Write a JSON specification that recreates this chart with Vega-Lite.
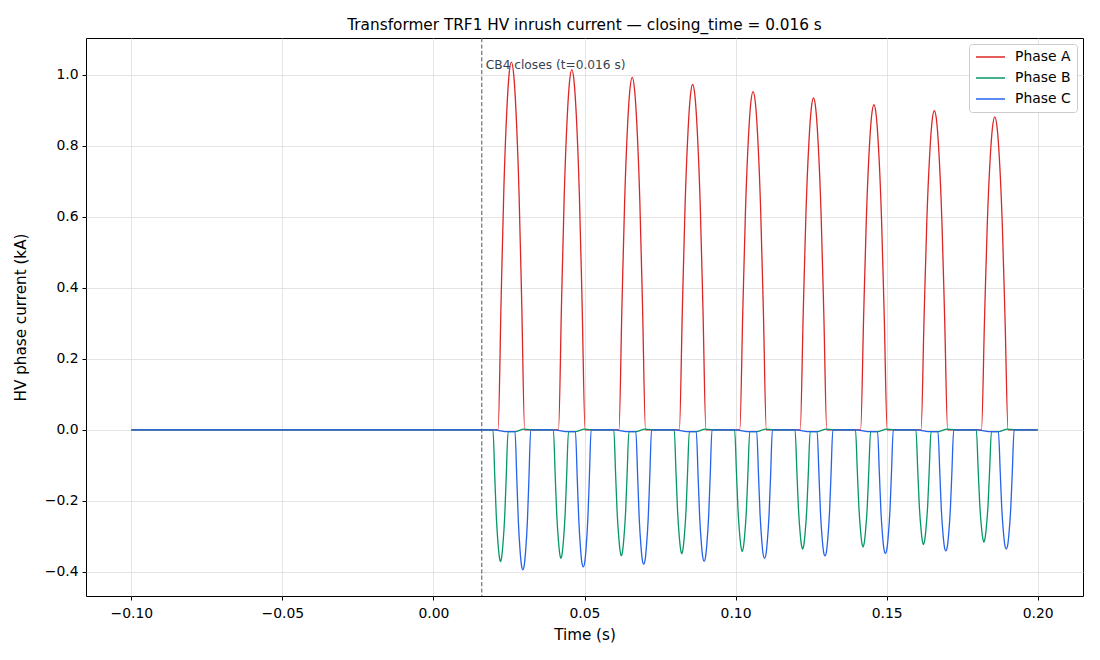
{
  "$schema": "https://vega.github.io/schema/vega-lite/v6.json",
  "autosize": "none",
  "width": 997,
  "height": 558,
  "padding": {"left": 86, "top": 38, "right": 17, "bottom": 64},
  "background": "white",
  "title": {
    "text": "Transformer TRF1 HV inrush current — closing_time = 0.016 s",
    "fontSize": 15.3,
    "fontWeight": "normal",
    "color": "black",
    "anchor": "middle",
    "offset": 4
  },
  "layer": [
    {
      "data": {
        "values": [
          {"t": -0.1, "phase": "Phase A", "i": 0},
          {"t": 0.0214, "phase": "Phase A", "i": 0},
          {"t": 0.0224, "phase": "Phase A", "i": 0.366},
          {"t": 0.0233, "phase": "Phase A", "i": 0.677},
          {"t": 0.0243, "phase": "Phase A", "i": 0.902},
          {"t": 0.0250, "phase": "Phase A", "i": 0.998},
          {"t": 0.0258, "phase": "Phase A", "i": 1.036},
          {"t": 0.0266, "phase": "Phase A", "i": 0.998},
          {"t": 0.0273, "phase": "Phase A", "i": 0.902},
          {"t": 0.0283, "phase": "Phase A", "i": 0.677},
          {"t": 0.0292, "phase": "Phase A", "i": 0.366},
          {"t": 0.0302, "phase": "Phase A", "i": 0},
          {"t": 0.0414, "phase": "Phase A", "i": 0},
          {"t": 0.0424, "phase": "Phase A", "i": 0.358},
          {"t": 0.0433, "phase": "Phase A", "i": 0.663},
          {"t": 0.0443, "phase": "Phase A", "i": 0.884},
          {"t": 0.0450, "phase": "Phase A", "i": 0.977},
          {"t": 0.0458, "phase": "Phase A", "i": 1.015},
          {"t": 0.0466, "phase": "Phase A", "i": 0.977},
          {"t": 0.0473, "phase": "Phase A", "i": 0.884},
          {"t": 0.0483, "phase": "Phase A", "i": 0.663},
          {"t": 0.0492, "phase": "Phase A", "i": 0.358},
          {"t": 0.0502, "phase": "Phase A", "i": 0},
          {"t": 0.0614, "phase": "Phase A", "i": 0},
          {"t": 0.0624, "phase": "Phase A", "i": 0.351},
          {"t": 0.0633, "phase": "Phase A", "i": 0.648},
          {"t": 0.0643, "phase": "Phase A", "i": 0.865},
          {"t": 0.0650, "phase": "Phase A", "i": 0.956},
          {"t": 0.0658, "phase": "Phase A", "i": 0.993},
          {"t": 0.0666, "phase": "Phase A", "i": 0.956},
          {"t": 0.0673, "phase": "Phase A", "i": 0.865},
          {"t": 0.0683, "phase": "Phase A", "i": 0.648},
          {"t": 0.0692, "phase": "Phase A", "i": 0.351},
          {"t": 0.0702, "phase": "Phase A", "i": 0},
          {"t": 0.0814, "phase": "Phase A", "i": 0},
          {"t": 0.0824, "phase": "Phase A", "i": 0.343},
          {"t": 0.0833, "phase": "Phase A", "i": 0.635},
          {"t": 0.0843, "phase": "Phase A", "i": 0.847},
          {"t": 0.0850, "phase": "Phase A", "i": 0.937},
          {"t": 0.0858, "phase": "Phase A", "i": 0.973},
          {"t": 0.0866, "phase": "Phase A", "i": 0.937},
          {"t": 0.0873, "phase": "Phase A", "i": 0.847},
          {"t": 0.0883, "phase": "Phase A", "i": 0.635},
          {"t": 0.0892, "phase": "Phase A", "i": 0.343},
          {"t": 0.0902, "phase": "Phase A", "i": 0},
          {"t": 0.1014, "phase": "Phase A", "i": 0},
          {"t": 0.1024, "phase": "Phase A", "i": 0.336},
          {"t": 0.1033, "phase": "Phase A", "i": 0.622},
          {"t": 0.1043, "phase": "Phase A", "i": 0.830},
          {"t": 0.1050, "phase": "Phase A", "i": 0.918},
          {"t": 0.1058, "phase": "Phase A", "i": 0.953},
          {"t": 0.1066, "phase": "Phase A", "i": 0.918},
          {"t": 0.1073, "phase": "Phase A", "i": 0.830},
          {"t": 0.1083, "phase": "Phase A", "i": 0.622},
          {"t": 0.1092, "phase": "Phase A", "i": 0.336},
          {"t": 0.1102, "phase": "Phase A", "i": 0},
          {"t": 0.1214, "phase": "Phase A", "i": 0},
          {"t": 0.1224, "phase": "Phase A", "i": 0.330},
          {"t": 0.1233, "phase": "Phase A", "i": 0.611},
          {"t": 0.1243, "phase": "Phase A", "i": 0.814},
          {"t": 0.1250, "phase": "Phase A", "i": 0.900},
          {"t": 0.1258, "phase": "Phase A", "i": 0.935},
          {"t": 0.1266, "phase": "Phase A", "i": 0.900},
          {"t": 0.1273, "phase": "Phase A", "i": 0.814},
          {"t": 0.1283, "phase": "Phase A", "i": 0.611},
          {"t": 0.1292, "phase": "Phase A", "i": 0.330},
          {"t": 0.1302, "phase": "Phase A", "i": 0},
          {"t": 0.1414, "phase": "Phase A", "i": 0},
          {"t": 0.1424, "phase": "Phase A", "i": 0.323},
          {"t": 0.1433, "phase": "Phase A", "i": 0.598},
          {"t": 0.1443, "phase": "Phase A", "i": 0.798},
          {"t": 0.1450, "phase": "Phase A", "i": 0.882},
          {"t": 0.1458, "phase": "Phase A", "i": 0.916},
          {"t": 0.1466, "phase": "Phase A", "i": 0.882},
          {"t": 0.1473, "phase": "Phase A", "i": 0.798},
          {"t": 0.1483, "phase": "Phase A", "i": 0.598},
          {"t": 0.1492, "phase": "Phase A", "i": 0.323},
          {"t": 0.1502, "phase": "Phase A", "i": 0},
          {"t": 0.1614, "phase": "Phase A", "i": 0},
          {"t": 0.1624, "phase": "Phase A", "i": 0.317},
          {"t": 0.1633, "phase": "Phase A", "i": 0.587},
          {"t": 0.1643, "phase": "Phase A", "i": 0.783},
          {"t": 0.1650, "phase": "Phase A", "i": 0.866},
          {"t": 0.1658, "phase": "Phase A", "i": 0.899},
          {"t": 0.1666, "phase": "Phase A", "i": 0.866},
          {"t": 0.1673, "phase": "Phase A", "i": 0.783},
          {"t": 0.1683, "phase": "Phase A", "i": 0.587},
          {"t": 0.1692, "phase": "Phase A", "i": 0.317},
          {"t": 0.1702, "phase": "Phase A", "i": 0},
          {"t": 0.1814, "phase": "Phase A", "i": 0},
          {"t": 0.1824, "phase": "Phase A", "i": 0.311},
          {"t": 0.1833, "phase": "Phase A", "i": 0.576},
          {"t": 0.1843, "phase": "Phase A", "i": 0.768},
          {"t": 0.1850, "phase": "Phase A", "i": 0.849},
          {"t": 0.1858, "phase": "Phase A", "i": 0.882},
          {"t": 0.1866, "phase": "Phase A", "i": 0.849},
          {"t": 0.1873, "phase": "Phase A", "i": 0.768},
          {"t": 0.1883, "phase": "Phase A", "i": 0.576},
          {"t": 0.1892, "phase": "Phase A", "i": 0.311},
          {"t": 0.1902, "phase": "Phase A", "i": 0},
          {"t": 0.2, "phase": "Phase A", "i": 0},

          {"t": -0.1, "phase": "Phase B", "i": 0},
          {"t": 0.0197, "phase": "Phase B", "i": 0},
          {"t": 0.0203, "phase": "Phase B", "i": -0.131},
          {"t": 0.0208, "phase": "Phase B", "i": -0.242},
          {"t": 0.0214, "phase": "Phase B", "i": -0.323},
          {"t": 0.0218, "phase": "Phase B", "i": -0.357},
          {"t": 0.0222, "phase": "Phase B", "i": -0.371},
          {"t": 0.0226, "phase": "Phase B", "i": -0.357},
          {"t": 0.0230, "phase": "Phase B", "i": -0.323},
          {"t": 0.0236, "phase": "Phase B", "i": -0.242},
          {"t": 0.0241, "phase": "Phase B", "i": -0.131},
          {"t": 0.0247, "phase": "Phase B", "i": -0.005},
          {"t": 0.0270, "phase": "Phase B", "i": -0.005},
          {"t": 0.0300, "phase": "Phase B", "i": 0.002},
          {"t": 0.0340, "phase": "Phase B", "i": 0},
          {"t": 0.0397, "phase": "Phase B", "i": 0},
          {"t": 0.0403, "phase": "Phase B", "i": -0.128},
          {"t": 0.0408, "phase": "Phase B", "i": -0.236},
          {"t": 0.0414, "phase": "Phase B", "i": -0.315},
          {"t": 0.0418, "phase": "Phase B", "i": -0.349},
          {"t": 0.0422, "phase": "Phase B", "i": -0.362},
          {"t": 0.0426, "phase": "Phase B", "i": -0.349},
          {"t": 0.0430, "phase": "Phase B", "i": -0.315},
          {"t": 0.0436, "phase": "Phase B", "i": -0.236},
          {"t": 0.0441, "phase": "Phase B", "i": -0.128},
          {"t": 0.0447, "phase": "Phase B", "i": -0.005},
          {"t": 0.0470, "phase": "Phase B", "i": -0.005},
          {"t": 0.0500, "phase": "Phase B", "i": 0.002},
          {"t": 0.0540, "phase": "Phase B", "i": 0},
          {"t": 0.0597, "phase": "Phase B", "i": 0},
          {"t": 0.0603, "phase": "Phase B", "i": -0.125},
          {"t": 0.0608, "phase": "Phase B", "i": -0.232},
          {"t": 0.0614, "phase": "Phase B", "i": -0.309},
          {"t": 0.0618, "phase": "Phase B", "i": -0.342},
          {"t": 0.0622, "phase": "Phase B", "i": -0.355},
          {"t": 0.0626, "phase": "Phase B", "i": -0.342},
          {"t": 0.0630, "phase": "Phase B", "i": -0.309},
          {"t": 0.0636, "phase": "Phase B", "i": -0.232},
          {"t": 0.0641, "phase": "Phase B", "i": -0.125},
          {"t": 0.0647, "phase": "Phase B", "i": -0.005},
          {"t": 0.0670, "phase": "Phase B", "i": -0.005},
          {"t": 0.0700, "phase": "Phase B", "i": 0.002},
          {"t": 0.0740, "phase": "Phase B", "i": 0},
          {"t": 0.0797, "phase": "Phase B", "i": 0},
          {"t": 0.0803, "phase": "Phase B", "i": -0.123},
          {"t": 0.0808, "phase": "Phase B", "i": -0.228},
          {"t": 0.0814, "phase": "Phase B", "i": -0.304},
          {"t": 0.0818, "phase": "Phase B", "i": -0.336},
          {"t": 0.0822, "phase": "Phase B", "i": -0.349},
          {"t": 0.0826, "phase": "Phase B", "i": -0.336},
          {"t": 0.0830, "phase": "Phase B", "i": -0.304},
          {"t": 0.0836, "phase": "Phase B", "i": -0.228},
          {"t": 0.0841, "phase": "Phase B", "i": -0.123},
          {"t": 0.0847, "phase": "Phase B", "i": -0.005},
          {"t": 0.0870, "phase": "Phase B", "i": -0.005},
          {"t": 0.0900, "phase": "Phase B", "i": 0.002},
          {"t": 0.0940, "phase": "Phase B", "i": 0},
          {"t": 0.0997, "phase": "Phase B", "i": 0},
          {"t": 0.1003, "phase": "Phase B", "i": -0.121},
          {"t": 0.1008, "phase": "Phase B", "i": -0.224},
          {"t": 0.1014, "phase": "Phase B", "i": -0.299},
          {"t": 0.1018, "phase": "Phase B", "i": -0.330},
          {"t": 0.1022, "phase": "Phase B", "i": -0.343},
          {"t": 0.1026, "phase": "Phase B", "i": -0.330},
          {"t": 0.1030, "phase": "Phase B", "i": -0.299},
          {"t": 0.1036, "phase": "Phase B", "i": -0.224},
          {"t": 0.1041, "phase": "Phase B", "i": -0.121},
          {"t": 0.1047, "phase": "Phase B", "i": -0.005},
          {"t": 0.1070, "phase": "Phase B", "i": -0.005},
          {"t": 0.1100, "phase": "Phase B", "i": 0.002},
          {"t": 0.1140, "phase": "Phase B", "i": 0},
          {"t": 0.1197, "phase": "Phase B", "i": 0},
          {"t": 0.1203, "phase": "Phase B", "i": -0.119},
          {"t": 0.1208, "phase": "Phase B", "i": -0.219},
          {"t": 0.1214, "phase": "Phase B", "i": -0.293},
          {"t": 0.1218, "phase": "Phase B", "i": -0.324},
          {"t": 0.1222, "phase": "Phase B", "i": -0.336},
          {"t": 0.1226, "phase": "Phase B", "i": -0.324},
          {"t": 0.1230, "phase": "Phase B", "i": -0.293},
          {"t": 0.1236, "phase": "Phase B", "i": -0.219},
          {"t": 0.1241, "phase": "Phase B", "i": -0.119},
          {"t": 0.1247, "phase": "Phase B", "i": -0.005},
          {"t": 0.1270, "phase": "Phase B", "i": -0.005},
          {"t": 0.1300, "phase": "Phase B", "i": 0.002},
          {"t": 0.1340, "phase": "Phase B", "i": 0},
          {"t": 0.1397, "phase": "Phase B", "i": 0},
          {"t": 0.1403, "phase": "Phase B", "i": -0.116},
          {"t": 0.1408, "phase": "Phase B", "i": -0.215},
          {"t": 0.1414, "phase": "Phase B", "i": -0.287},
          {"t": 0.1418, "phase": "Phase B", "i": -0.318},
          {"t": 0.1422, "phase": "Phase B", "i": -0.330},
          {"t": 0.1426, "phase": "Phase B", "i": -0.318},
          {"t": 0.1430, "phase": "Phase B", "i": -0.287},
          {"t": 0.1436, "phase": "Phase B", "i": -0.215},
          {"t": 0.1441, "phase": "Phase B", "i": -0.116},
          {"t": 0.1447, "phase": "Phase B", "i": -0.005},
          {"t": 0.1470, "phase": "Phase B", "i": -0.005},
          {"t": 0.1500, "phase": "Phase B", "i": 0.002},
          {"t": 0.1540, "phase": "Phase B", "i": 0},
          {"t": 0.1597, "phase": "Phase B", "i": 0},
          {"t": 0.1603, "phase": "Phase B", "i": -0.114},
          {"t": 0.1608, "phase": "Phase B", "i": -0.211},
          {"t": 0.1614, "phase": "Phase B", "i": -0.281},
          {"t": 0.1618, "phase": "Phase B", "i": -0.311},
          {"t": 0.1622, "phase": "Phase B", "i": -0.323},
          {"t": 0.1626, "phase": "Phase B", "i": -0.311},
          {"t": 0.1630, "phase": "Phase B", "i": -0.281},
          {"t": 0.1636, "phase": "Phase B", "i": -0.211},
          {"t": 0.1641, "phase": "Phase B", "i": -0.114},
          {"t": 0.1647, "phase": "Phase B", "i": -0.005},
          {"t": 0.1670, "phase": "Phase B", "i": -0.005},
          {"t": 0.1700, "phase": "Phase B", "i": 0.002},
          {"t": 0.1740, "phase": "Phase B", "i": 0},
          {"t": 0.1797, "phase": "Phase B", "i": 0},
          {"t": 0.1803, "phase": "Phase B", "i": -0.112},
          {"t": 0.1808, "phase": "Phase B", "i": -0.206},
          {"t": 0.1814, "phase": "Phase B", "i": -0.275},
          {"t": 0.1818, "phase": "Phase B", "i": -0.304},
          {"t": 0.1822, "phase": "Phase B", "i": -0.316},
          {"t": 0.1826, "phase": "Phase B", "i": -0.304},
          {"t": 0.1830, "phase": "Phase B", "i": -0.275},
          {"t": 0.1836, "phase": "Phase B", "i": -0.206},
          {"t": 0.1841, "phase": "Phase B", "i": -0.112},
          {"t": 0.1847, "phase": "Phase B", "i": -0.005},
          {"t": 0.1870, "phase": "Phase B", "i": -0.005},
          {"t": 0.1900, "phase": "Phase B", "i": 0.002},
          {"t": 0.1940, "phase": "Phase B", "i": 0},
          {"t": 0.2, "phase": "Phase B", "i": 0},

          {"t": -0.1, "phase": "Phase C", "i": 0},
          {"t": 0.0197, "phase": "Phase C", "i": 0},
          {"t": 0.0247, "phase": "Phase C", "i": -0.005},
          {"t": 0.0270, "phase": "Phase C", "i": -0.005},
          {"t": 0.0276, "phase": "Phase C", "i": -0.139},
          {"t": 0.0281, "phase": "Phase C", "i": -0.257},
          {"t": 0.0287, "phase": "Phase C", "i": -0.343},
          {"t": 0.0291, "phase": "Phase C", "i": -0.379},
          {"t": 0.0296, "phase": "Phase C", "i": -0.394},
          {"t": 0.0301, "phase": "Phase C", "i": -0.379},
          {"t": 0.0305, "phase": "Phase C", "i": -0.343},
          {"t": 0.0311, "phase": "Phase C", "i": -0.257},
          {"t": 0.0316, "phase": "Phase C", "i": -0.139},
          {"t": 0.0322, "phase": "Phase C", "i": 0},
          {"t": 0.0397, "phase": "Phase C", "i": 0},
          {"t": 0.0447, "phase": "Phase C", "i": -0.005},
          {"t": 0.0470, "phase": "Phase C", "i": -0.005},
          {"t": 0.0476, "phase": "Phase C", "i": -0.136},
          {"t": 0.0481, "phase": "Phase C", "i": -0.252},
          {"t": 0.0487, "phase": "Phase C", "i": -0.336},
          {"t": 0.0491, "phase": "Phase C", "i": -0.372},
          {"t": 0.0496, "phase": "Phase C", "i": -0.386},
          {"t": 0.0501, "phase": "Phase C", "i": -0.372},
          {"t": 0.0505, "phase": "Phase C", "i": -0.336},
          {"t": 0.0511, "phase": "Phase C", "i": -0.252},
          {"t": 0.0516, "phase": "Phase C", "i": -0.136},
          {"t": 0.0522, "phase": "Phase C", "i": 0},
          {"t": 0.0597, "phase": "Phase C", "i": 0},
          {"t": 0.0647, "phase": "Phase C", "i": -0.005},
          {"t": 0.0670, "phase": "Phase C", "i": -0.005},
          {"t": 0.0676, "phase": "Phase C", "i": -0.133},
          {"t": 0.0681, "phase": "Phase C", "i": -0.247},
          {"t": 0.0687, "phase": "Phase C", "i": -0.329},
          {"t": 0.0691, "phase": "Phase C", "i": -0.364},
          {"t": 0.0696, "phase": "Phase C", "i": -0.378},
          {"t": 0.0701, "phase": "Phase C", "i": -0.364},
          {"t": 0.0705, "phase": "Phase C", "i": -0.329},
          {"t": 0.0711, "phase": "Phase C", "i": -0.247},
          {"t": 0.0716, "phase": "Phase C", "i": -0.133},
          {"t": 0.0722, "phase": "Phase C", "i": 0},
          {"t": 0.0797, "phase": "Phase C", "i": 0},
          {"t": 0.0847, "phase": "Phase C", "i": -0.005},
          {"t": 0.0870, "phase": "Phase C", "i": -0.005},
          {"t": 0.0876, "phase": "Phase C", "i": -0.131},
          {"t": 0.0881, "phase": "Phase C", "i": -0.242},
          {"t": 0.0887, "phase": "Phase C", "i": -0.322},
          {"t": 0.0891, "phase": "Phase C", "i": -0.356},
          {"t": 0.0896, "phase": "Phase C", "i": -0.370},
          {"t": 0.0901, "phase": "Phase C", "i": -0.356},
          {"t": 0.0905, "phase": "Phase C", "i": -0.322},
          {"t": 0.0911, "phase": "Phase C", "i": -0.242},
          {"t": 0.0916, "phase": "Phase C", "i": -0.131},
          {"t": 0.0922, "phase": "Phase C", "i": 0},
          {"t": 0.0997, "phase": "Phase C", "i": 0},
          {"t": 0.1047, "phase": "Phase C", "i": -0.005},
          {"t": 0.1070, "phase": "Phase C", "i": -0.005},
          {"t": 0.1076, "phase": "Phase C", "i": -0.128},
          {"t": 0.1081, "phase": "Phase C", "i": -0.236},
          {"t": 0.1087, "phase": "Phase C", "i": -0.315},
          {"t": 0.1091, "phase": "Phase C", "i": -0.349},
          {"t": 0.1096, "phase": "Phase C", "i": -0.362},
          {"t": 0.1101, "phase": "Phase C", "i": -0.349},
          {"t": 0.1105, "phase": "Phase C", "i": -0.315},
          {"t": 0.1111, "phase": "Phase C", "i": -0.236},
          {"t": 0.1116, "phase": "Phase C", "i": -0.128},
          {"t": 0.1122, "phase": "Phase C", "i": 0},
          {"t": 0.1197, "phase": "Phase C", "i": 0},
          {"t": 0.1247, "phase": "Phase C", "i": -0.005},
          {"t": 0.1270, "phase": "Phase C", "i": -0.005},
          {"t": 0.1276, "phase": "Phase C", "i": -0.125},
          {"t": 0.1281, "phase": "Phase C", "i": -0.232},
          {"t": 0.1287, "phase": "Phase C", "i": -0.309},
          {"t": 0.1291, "phase": "Phase C", "i": -0.342},
          {"t": 0.1296, "phase": "Phase C", "i": -0.355},
          {"t": 0.1301, "phase": "Phase C", "i": -0.342},
          {"t": 0.1305, "phase": "Phase C", "i": -0.309},
          {"t": 0.1311, "phase": "Phase C", "i": -0.232},
          {"t": 0.1316, "phase": "Phase C", "i": -0.125},
          {"t": 0.1322, "phase": "Phase C", "i": 0},
          {"t": 0.1397, "phase": "Phase C", "i": 0},
          {"t": 0.1447, "phase": "Phase C", "i": -0.005},
          {"t": 0.1470, "phase": "Phase C", "i": -0.005},
          {"t": 0.1476, "phase": "Phase C", "i": -0.123},
          {"t": 0.1481, "phase": "Phase C", "i": -0.227},
          {"t": 0.1487, "phase": "Phase C", "i": -0.303},
          {"t": 0.1491, "phase": "Phase C", "i": -0.335},
          {"t": 0.1496, "phase": "Phase C", "i": -0.348},
          {"t": 0.1501, "phase": "Phase C", "i": -0.335},
          {"t": 0.1505, "phase": "Phase C", "i": -0.303},
          {"t": 0.1511, "phase": "Phase C", "i": -0.227},
          {"t": 0.1516, "phase": "Phase C", "i": -0.123},
          {"t": 0.1522, "phase": "Phase C", "i": 0},
          {"t": 0.1597, "phase": "Phase C", "i": 0},
          {"t": 0.1647, "phase": "Phase C", "i": -0.005},
          {"t": 0.1670, "phase": "Phase C", "i": -0.005},
          {"t": 0.1676, "phase": "Phase C", "i": -0.120},
          {"t": 0.1681, "phase": "Phase C", "i": -0.223},
          {"t": 0.1687, "phase": "Phase C", "i": -0.297},
          {"t": 0.1691, "phase": "Phase C", "i": -0.328},
          {"t": 0.1696, "phase": "Phase C", "i": -0.341},
          {"t": 0.1701, "phase": "Phase C", "i": -0.328},
          {"t": 0.1705, "phase": "Phase C", "i": -0.297},
          {"t": 0.1711, "phase": "Phase C", "i": -0.223},
          {"t": 0.1716, "phase": "Phase C", "i": -0.120},
          {"t": 0.1722, "phase": "Phase C", "i": 0},
          {"t": 0.1797, "phase": "Phase C", "i": 0},
          {"t": 0.1847, "phase": "Phase C", "i": -0.005},
          {"t": 0.1870, "phase": "Phase C", "i": -0.005},
          {"t": 0.1876, "phase": "Phase C", "i": -0.118},
          {"t": 0.1881, "phase": "Phase C", "i": -0.219},
          {"t": 0.1887, "phase": "Phase C", "i": -0.292},
          {"t": 0.1891, "phase": "Phase C", "i": -0.323},
          {"t": 0.1896, "phase": "Phase C", "i": -0.335},
          {"t": 0.1901, "phase": "Phase C", "i": -0.323},
          {"t": 0.1905, "phase": "Phase C", "i": -0.292},
          {"t": 0.1911, "phase": "Phase C", "i": -0.219},
          {"t": 0.1916, "phase": "Phase C", "i": -0.118},
          {"t": 0.1922, "phase": "Phase C", "i": 0},
          {"t": 0.2, "phase": "Phase C", "i": 0}
        ]
      },
      "mark": {"type": "line", "strokeWidth": 1.3, "clip": true, "interpolate": "monotone"},
      "encoding": {
        "x": {
          "field": "t",
          "type": "quantitative",
          "title": "Time (s)",
          "scale": {"domain": [-0.115, 0.215], "nice": false, "zero": false},
          "axis": {"values": [-0.1, -0.05, 0, 0.05, 0.1, 0.15, 0.2], "format": ".2f"}
        },
        "y": {
          "field": "i",
          "type": "quantitative",
          "title": "HV phase current (kA)",
          "scale": {"domain": [-0.468, 1.104], "nice": false, "zero": false},
          "axis": {"values": [-0.4, -0.2, 0, 0.2, 0.4, 0.6, 0.8, 1.0], "format": ".1f"}
        },
        "color": {
          "field": "phase",
          "type": "nominal",
          "scale": {
            "domain": ["Phase A", "Phase B", "Phase C"],
            "range": ["#dc2626", "#059669", "#2563eb"]
          },
          "legend": {
            "title": null,
            "orient": "top-right",
            "offset": 6,
            "symbolType": "stroke",
            "symbolSize": 841,
            "clipHeight": 14,
            "symbolStrokeWidth": 1.5,
            "rowPadding": 7,
            "labelFontSize": 13.9,
            "labelColor": "black",
            "labelOffset": 9,
            "padding": 6,
            "strokeColor": "#cccccc",
            "fillColor": "rgba(255,255,255,0.85)",
            "cornerRadius": 3
          }
        },
        "order": {"field": "t", "type": "quantitative"}
      }
    },
    {
      "data": {"values": [{"t": 0.016}]},
      "mark": {"type": "rule", "color": "#5b6478", "strokeWidth": 1.1, "strokeDash": [4.2, 2.2]},
      "encoding": {
        "x": {"field": "t", "type": "quantitative"}
      }
    },
    {
      "data": {"values": [{"t": 0.016, "i": 1.028, "label": "CB4 closes (t=0.016 s)"}]},
      "mark": {"type": "text", "align": "left", "baseline": "middle", "dx": 4, "fontSize": 12.2, "color": "#374151"},
      "encoding": {
        "x": {"field": "t", "type": "quantitative"},
        "y": {"field": "i", "type": "quantitative"},
        "text": {"field": "label"}
      }
    }
  ],
  "config": {
    "font": "DejaVu Sans",
    "view": {"stroke": "black", "strokeWidth": 1},
    "axis": {
      "domain": false,
      "grid": true,
      "gridColor": "#dddddd",
      "gridWidth": 0.8,
      "tickColor": "black",
      "tickSize": 4,
      "labelFontSize": 13.9,
      "labelColor": "black",
      "titleFontSize": 15.2,
      "titleFontWeight": "normal",
      "titleColor": "black",
      "labelPadding": 4
    },
    "axisX": {"labelPadding": 6, "titlePadding": 8},
    "axisY": {"titlePadding": 16}
  }
}
